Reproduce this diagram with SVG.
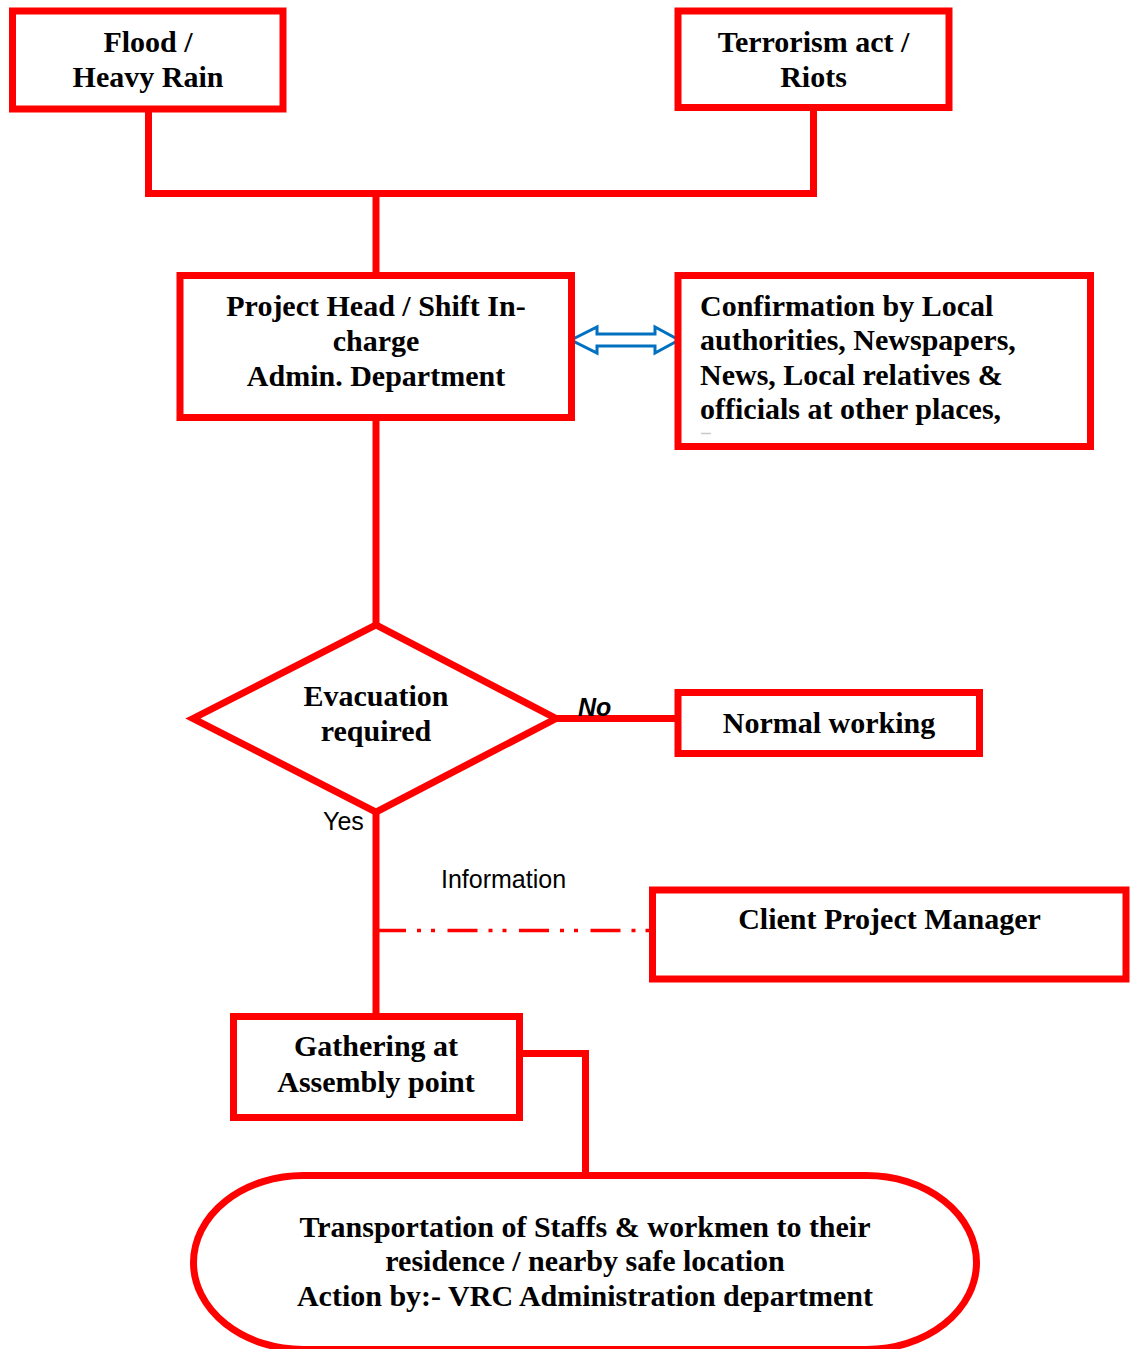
<svg xmlns="http://www.w3.org/2000/svg" width="1130" height="1349" viewBox="0 0 1130 1349">
  <style>
    .box { fill: #ffffff; stroke: #ff0000; stroke-width: 7; }
    .wire { fill: none; stroke: #ff0000; stroke-width: 7; }
    .info { fill: none; stroke: #ff0000; stroke-width: 3.5; stroke-dasharray: 30 11 4 10 4 12.5; }
    .t { font-family: "Liberation Serif", "Times New Roman", serif; font-weight: bold; font-size: 30px; fill: #000000; }
    .c { text-anchor: middle; }
    .lbl { font-family: "Liberation Sans", Arial, sans-serif; font-size: 25px; fill: #000000; }
  </style>
  <rect width="1130" height="1349" fill="#ffffff"/>

  <g id="connectors">
    <polyline class="wire" points="148.5,109 148.5,193.5 813.5,193.5 813.5,107"/>
    <line class="wire" x1="376" y1="193.5" x2="376" y2="276"/>
    <line class="wire" x1="376" y1="418" x2="376" y2="627"/>
    <line class="wire" x1="555" y1="718.5" x2="678" y2="718.5"/>
    <line class="wire" x1="376" y1="811" x2="376" y2="1017"/>
    <line class="info" x1="376" y1="930.5" x2="652" y2="930.5"/>
    <polyline class="wire" points="519.5,1053.5 585.5,1053.5 585.5,1176"/>
    <path d="M571,340 L597,327 L597,334 L655,334 L655,327 L679,340 L655,353 L655,346 L597,346 L597,353 Z" fill="#ffffff" stroke="#0070c0" stroke-width="3" stroke-linejoin="miter"/>
    <text class="lbl" x="578" y="716" font-weight="bold" font-style="italic">No</text>
    <text class="lbl" x="323" y="830">Yes</text>
    <text class="lbl" x="441" y="888">Information</text>
  </g>

  <g id="flood">
    <rect class="box" x="12.5" y="11" width="270.5" height="98"/>
    <text class="t c" x="148" y="52">Flood /</text>
    <text class="t c" x="148" y="87">Heavy Rain</text>
  </g>

  <g id="terrorism">
    <rect class="box" x="678" y="11" width="271" height="96.5"/>
    <text class="t c" x="813.5" y="52">Terrorism act /</text>
    <text class="t c" x="813.5" y="87">Riots</text>
  </g>

  <g id="project-head">
    <rect class="box" x="180" y="275.5" width="391.5" height="142"/>
    <text class="t c" x="376" y="316">Project Head / Shift In-</text>
    <text class="t c" x="376" y="351">charge</text>
    <text class="t c" x="376" y="386">Admin. Department</text>
  </g>

  <g id="confirmation">
    <rect class="box" x="678" y="275.5" width="412.5" height="171"/>
    <text class="t" x="700" y="316">Confirmation by Local</text>
    <text class="t" x="700" y="350">authorities, Newspapers,</text>
    <text class="t" x="700" y="385">News, Local relatives &amp;</text>
    <text class="t" x="700" y="419">officials at other places,</text>
    <line x1="701" y1="433.5" x2="711" y2="433.5" stroke="#c8c8c8" stroke-width="1.5"/>
  </g>

  <g id="evacuation">
    <polygon class="box" points="193,718.5 376,625 556,718.5 376,812"/>
    <text class="t c" x="376" y="706">Evacuation</text>
    <text class="t c" x="376" y="741">required</text>
  </g>

  <g id="normal-working">
    <rect class="box" x="678" y="692.5" width="301.5" height="61"/>
    <text class="t c" x="829" y="733">Normal working</text>
  </g>

  <g id="client-pm">
    <rect class="box" x="652.5" y="890" width="473.5" height="89"/>
    <text class="t c" x="889.5" y="929">Client Project Manager</text>
  </g>

  <g id="gathering">
    <rect class="box" x="233.5" y="1016.5" width="286" height="101"/>
    <text class="t c" x="376" y="1056">Gathering at</text>
    <text class="t c" x="376" y="1092">Assembly point</text>
  </g>

  <g id="transportation">
    <rect class="box" x="193.5" y="1175.5" width="783" height="174" rx="110" ry="88"/>
    <text class="t c" x="585" y="1237">Transportation of Staffs &amp; workmen to their</text>
    <text class="t c" x="585" y="1271">residence / nearby safe location</text>
    <text class="t c" x="585" y="1306">Action by:- VRC Administration department</text>
  </g>
</svg>
